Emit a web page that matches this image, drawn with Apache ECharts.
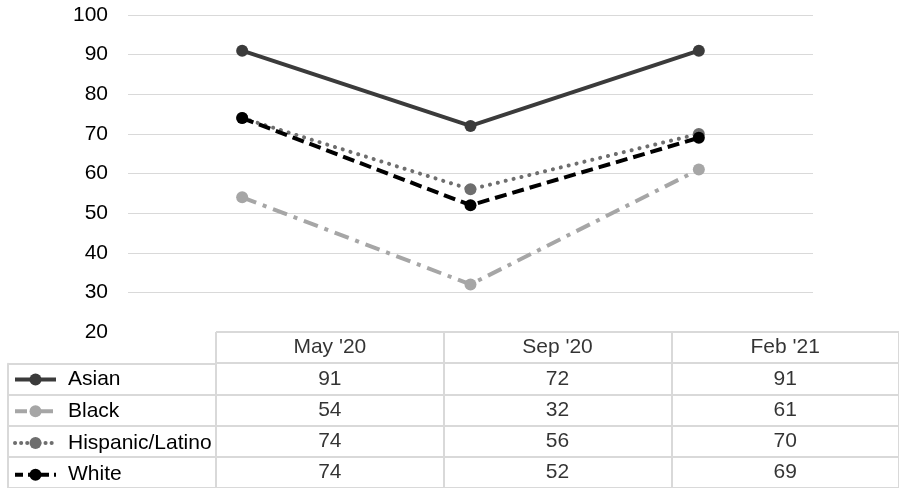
<!DOCTYPE html>
<html>
<head>
<meta charset="utf-8">
<script src="https://cdn.jsdelivr.net/npm/echarts@6/dist/echarts.min.js"></script>
<style>
html,body{margin:0;padding:0;background:#fff;}
#c{width:899px;height:488px;}
</style>
</head>
<body>
<div id="c"></div>
<script>
var categories = ["May '20", "Sep '20", "Feb '21"];
var seriesNames = ["Asian", "Black", "Hispanic/Latino", "White"];
var asian = [91, 72, 91];
var black = [54, 32, 61];
var hispanic = [74, 56, 70];
var white = [74, 52, 69];
var yTicks = [20, 30, 40, 50, 60, 70, 80, 90, 100];

var values = [asian, black, hispanic, white];
var colors = ['#3b3b3b', '#a6a6a6', '#6e6e6e', '#000000'];
var dashes = ['solid', [15, 7, 4, 7], [0.1, 8], [12, 6]];
var caps = ['butt', 'butt', 'round', 'butt'];
var FONT = '"Liberation Sans", Arial, Helvetica, sans-serif';
var FS = 21;
var gridLine = {color: '#d9d9d9', width: 2};

var tableTop = 332, rowH = 31.7;

var lineSeries = seriesNames.map(function (name, i) {
  return {
    name: name,
    type: 'line',
    xAxisIndex: 0,
    yAxisIndex: 0,
    data: values[i],
    symbol: 'circle',
    symbolSize: 12,
    itemStyle: {color: colors[i]},
    lineStyle: {color: colors[i], width: 4, type: dashes[i], cap: caps[i]},
    z: 10 + i,
    animation: false
  };
});

var cellData = [];
categories.forEach(function (c, j) { cellData.push([j, 0, c]); });
values.forEach(function (arr, i) {
  arr.forEach(function (v, j) { cellData.push([j, i + 1, String(v)]); });
});

var legendDashes = ['solid', [12, 5, 4, 5], [0.1, 6], [8, 5]];

var legends = seriesNames.map(function (name, i) {
  var center = tableTop + rowH * (i + 1.5);
  return {
    data: [name],
    orient: 'horizontal',
    left: 13,
    top: center - FS / 2,
    padding: 0,
    itemWidth: 41,
    itemHeight: 15,
    selectedMode: false,
    lineStyle: {width: 4, type: legendDashes[i], cap: caps[i]},
    textStyle: {fontSize: FS, lineHeight: FS, color: '#000', fontFamily: FONT, padding: [0, 0, 0, 7]}
  };
});

var option = {
  animation: false,
  textStyle: {fontFamily: FONT},
  grid: [
    {left: 128, right: 86, top: 15, bottom: 156},
    {left: 8, width: 208, top: tableTop + rowH, height: rowH * 4},
    {left: 216, width: 684, top: tableTop, height: rowH * 5}
  ],
  xAxis: [
    {gridIndex: 0, type: 'category', data: categories, boundaryGap: true,
     axisLine: {show: false}, axisTick: {show: false}, axisLabel: {show: false}, splitLine: {show: false}},
    {gridIndex: 1, type: 'value', min: 0, max: 1, show: false},
    {gridIndex: 2, type: 'category', data: categories, boundaryGap: true,
     axisLine: {show: false}, axisTick: {show: false}, axisLabel: {show: false},
     splitLine: {show: true, interval: 0, lineStyle: gridLine}}
  ],
  yAxis: [
    {gridIndex: 0, type: 'value', min: yTicks[0], max: yTicks[yTicks.length - 1], interval: 10,
     axisLine: {show: false}, axisTick: {show: false},
     axisLabel: {fontSize: FS, color: '#000', margin: 20, fontFamily: FONT},
     splitLine: {show: true, showMinLine: false, lineStyle: {color: '#d9d9d9', width: 1.2}}},
    {gridIndex: 1, type: 'category', data: seriesNames, inverse: true, boundaryGap: true,
     axisLine: {show: true, lineStyle: gridLine}, axisTick: {show: false}, axisLabel: {show: false},
     splitLine: {show: true, interval: 0, lineStyle: gridLine}},
    {gridIndex: 2, type: 'category', data: [''].concat(seriesNames), inverse: true, boundaryGap: true,
     axisLine: {show: false}, axisTick: {show: false}, axisLabel: {show: false},
     splitLine: {show: true, interval: 0, lineStyle: gridLine}}
  ],
  legend: legends,
  series: lineSeries.concat([{
    type: 'scatter',
    xAxisIndex: 2,
    yAxisIndex: 2,
    data: cellData,
    symbolSize: 0,
    silent: true,
    label: {
      show: true,
      position: 'inside',
      fontSize: FS,
      color: '#000',
      fontFamily: FONT,
      formatter: function (p) { return p.value[2]; }
    }
  }])
};

var chart = echarts.init(document.getElementById('c'));
chart.setOption(option);
</script>
</body>
</html>
